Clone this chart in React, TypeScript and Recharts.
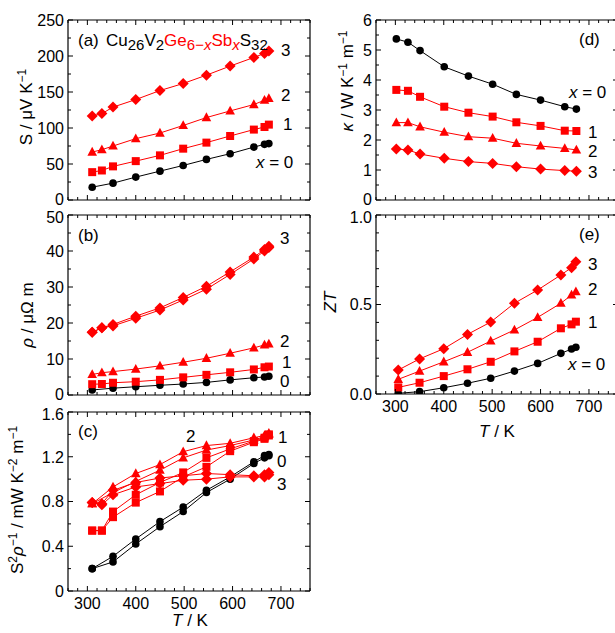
import React from 'react';
import { LineChart, Line, XAxis, YAxis } from 'recharts';

const RED = '#ff0000';
const BLACK = '#000000';
const FONT = '"Liberation Sans", Arial, sans-serif';

// temperatures (K)
const T_LEFT = [310, 330, 353, 400, 450, 498, 546, 595, 644, 666, 675];
const T_LEFT0 = [310, 353, 400, 450, 498, 546, 595, 644, 666, 675];
const T_KAPPA = [302, 326, 351, 401, 451, 501, 550, 600, 650, 674];
const T_ZT = [306, 350, 400, 449, 497, 546, 594, 642, 664, 673];

// (a) Seebeck coefficient, uV/K
const seebeck0 = [17.8, 23.4, 31.8, 40.1, 48, 56.4, 64.3, 73.5, 77.3, 78.3];
const seebeck1 = [38.7, 41, 46.7, 54, 62, 71.3, 79.7, 88.9, 97.8, 101.4, 104.7];
const seebeck2 = [66.6, 69.9, 75, 85.2, 93, 103.5, 114.5, 123.7, 132.6, 138.6, 141];
const seebeck3 = [116.7, 120, 129, 139.5, 152, 161.8, 173.4, 186, 198, 203.6, 206.8];

// (b) resistivity, uOhm m
const rho0 = [1.4, 1.9, 2.3, 2.7, 3.05, 3.5, 4.2, 4.8, 5.0, 5.2];
const rho1 = [3.0, 3.05, 3.4, 3.7, 4.2, 4.9, 5.6, 6.3, 7.1, 7.7, 7.9];
const rho2 = [5.7, 6.2, 6.5, 7.2, 8.1, 9.1, 10.2, 11.6, 13.1, 13.9, 14.2];
const rho3Heat = [17.4, 18.7, 19.2, 21.3, 23.6, 26.4, 29.4, 33.5, 37.8, 40.0, 41.0];
const rho3Cool = [17.4, 18.7, 19.6, 21.9, 24.2, 27.1, 30.2, 34.2, 38.3, 40.4, 41.3];

// (c) power factor, mW K^-2 m^-1
const pf0Heat = [0.20, 0.31, 0.465, 0.62, 0.75, 0.90, 1.02, 1.155, 1.21, 1.22];
const pf0Cool = [0.20, 0.26, 0.42, 0.575, 0.71, 0.88, 1.0, 1.14, 1.19, 1.21];
const pf1Heat = [0.54, 0.54, 0.71, 0.86, 0.97, 1.06, 1.19, 1.27, 1.34, 1.37, 1.40];
const pf1Cool = [0.54, 0.54, 0.66, 0.79, 0.89, 1.02, 1.11, 1.25, 1.33, 1.36, 1.39];
const pf2Heat = [0.78, 0.93, 1.05, 1.13, 1.245, 1.30, 1.32, 1.37, 1.39, 1.41];
const pf2Cool = [0.78, 0.88, 0.98, 1.08, 1.19, 1.26, 1.30, 1.35, 1.38, 1.40];
const pf3Heat = [0.79, 0.78, 0.90, 0.97, 1.01, 1.03, 1.05, 1.04, 1.03, 1.04, 1.06];
const pf3Cool = [0.79, 0.77, 0.86, 0.93, 0.96, 0.99, 1.0, 1.02, 1.02, 1.02, 1.04];

// (d) thermal conductivity, W K^-1 m^-1
const kappa0 = [5.37, 5.26, 4.98, 4.44, 4.13, 3.86, 3.52, 3.33, 3.11, 3.03];
const kappa1 = [3.67, 3.64, 3.44, 3.11, 2.91, 2.78, 2.59, 2.47, 2.31, 2.30];
const kappa2 = [2.58, 2.58, 2.44, 2.26, 2.11, 2.06, 1.89, 1.80, 1.72, 1.67];
const kappa3 = [1.70, 1.67, 1.53, 1.39, 1.28, 1.22, 1.11, 1.03, 0.98, 0.96];

// (e) ZT
const zt0 = [0.004, 0.013, 0.035, 0.06, 0.088, 0.128, 0.171, 0.227, 0.251, 0.261];
const zt1 = [0.037, 0.063, 0.10, 0.138, 0.18, 0.238, 0.292, 0.367, 0.389, 0.404];
const zt2 = [0.082, 0.128, 0.18, 0.233, 0.296, 0.358, 0.428, 0.507, 0.553, 0.572];
const zt3 = [0.134, 0.196, 0.253, 0.333, 0.402, 0.507, 0.581, 0.665, 0.706, 0.739];

// axis ticks
const T_MAJOR = [300, 400, 500, 600, 700];
const S_MAJOR = [0, 50, 100, 150, 200, 250];
const RHO_MAJOR = [0, 10, 20, 30, 40, 50];
const PF_MAJOR = [0, 0.4, 0.8, 1.2, 1.6];
const KAPPA_MAJOR = [0, 1, 2, 3, 4, 5, 6];
const ZT_MAJOR = [0, 0.5, 1.0];

type Shape = 'circle' | 'square' | 'triangle' | 'diamond';
type Series = { ts: number[]; vs: number[]; shape: Shape; color: string };

const zip = (ts: number[], vs: number[]) => vs.map((v, i) => ({ t: ts[i], v }));

const tickRange = (lo: number, hi: number, step: number) => {
  const n = Math.round((hi - lo) / step);
  const out: number[] = [];
  for (let i = 0; i <= n; i++) out.push(Number((lo + i * step).toFixed(4)));
  return out;
};

const isMajor = (v: number, majors: number[]) => majors.some(m => Math.abs(m - v) < 1e-6);

const Marker = ({ cx, cy, shape, color }: any) => {
  if (cx == null || cy == null) return <g />;
  if (shape === 'circle') return <circle cx={cx} cy={cy} r={3.8} fill={color} />;
  if (shape === 'square') return <rect x={cx - 4} y={cy - 4} width={8} height={8} fill={color} />;
  if (shape === 'triangle')
    return <polygon points={`${cx},${cy - 5.2} ${cx + 4.8},${cy + 3.6} ${cx - 4.8},${cy + 3.6}`} fill={color} />;
  return <polygon points={`${cx},${cy - 5.5} ${cx + 5.5},${cy} ${cx},${cy + 5.5} ${cx - 5.5},${cy}`} fill={color} />;
};

const tickText = { fontSize: 16, fill: BLACK, fontFamily: FONT };

interface PanelProps {
  left: number;
  top: number;
  w: number;
  h: number;
  yMax: number;
  yMinor: number;
  yMajor: number[];
  yFmt: (v: number) => string;
  xLabels: boolean;
  series: Series[];
}

const PAD = 40;
const AX = 20; // axis band size; margins make up the rest of PAD

const Panel: React.FC<PanelProps> = ({ left, top, w, h, yMax, yMinor, yMajor, yFmt, xLabels, series }) => {
  const xTicks = tickRange(260, 760, 20);
  const yTicks = tickRange(0, yMax, yMinor);
  const frame = { stroke: BLACK, strokeWidth: 1.2 };
  // stacked panels: the top label of a lower panel sits a little low, the 0 of an upper panel a little high
  const nudge = (v: number) => (v === yMax && top > 100 ? 2 : v === 0 && !xLabels ? -1 : 0);

  const bottomTick = (p: any) => {
    const major = isMajor(p.payload.value, T_MAJOR);
    return (
      <g>
        <line x1={p.x} x2={p.x} y1={p.y} y2={p.y - (major ? 5 : 3)} stroke={BLACK} />
        {major && xLabels && (
          <text x={p.x} y={p.y + 18} textAnchor="middle" {...tickText}>{p.payload.value}</text>
        )}
      </g>
    );
  };
  const topTick = (p: any) => {
    const major = isMajor(p.payload.value, T_MAJOR);
    return <line x1={p.x} x2={p.x} y1={p.y} y2={p.y + (major ? 5 : 3)} stroke={BLACK} />;
  };
  const leftTick = (p: any) => {
    const v = p.payload.value;
    const major = isMajor(v, yMajor);
    return (
      <g>
        <line x1={p.x} x2={p.x + (major ? 5 : 3)} y1={p.y} y2={p.y} stroke={BLACK} />
        {major && (
          <text x={p.x - 4} y={p.y + nudge(v)} dy="0.36em" textAnchor="end" {...tickText}>{yFmt(v)}</text>
        )}
      </g>
    );
  };
  const rightTick = (p: any) => {
    const major = isMajor(p.payload.value, yMajor);
    return <line x1={p.x} x2={p.x - (major ? 5 : 3)} y1={p.y} y2={p.y} stroke={BLACK} />;
  };

  const m = PAD - AX;
  return (
    <div style={{ position: 'absolute', left: left - PAD, top: top - PAD }}>
      <LineChart width={w + 2 * PAD} height={h + 2 * PAD} margin={{ top: m, right: m, bottom: m, left: m }}>
        <XAxis xAxisId="b" dataKey="t" type="number" domain={[260, 760]} allowDataOverflow ticks={xTicks}
          interval={0} height={AX} tickSize={0} tickMargin={0} tickLine={false} tick={bottomTick} axisLine={frame} />
        <XAxis xAxisId="t" orientation="top" dataKey="t" type="number" domain={[260, 760]} allowDataOverflow
          ticks={xTicks} interval={0} height={AX} tickSize={0} tickMargin={0} tickLine={false} tick={topTick}
          axisLine={frame} />
        <YAxis yAxisId="l" type="number" domain={[0, yMax]} allowDataOverflow ticks={yTicks} interval={0}
          width={AX} tickSize={0} tickMargin={0} tickLine={false} tick={leftTick} axisLine={frame} />
        <YAxis yAxisId="r" orientation="right" type="number" domain={[0, yMax]} allowDataOverflow ticks={yTicks}
          interval={0} width={AX} tickSize={0} tickMargin={0} tickLine={false} tick={rightTick} axisLine={frame} />
        {series.map((s, i) => (
          <Line
            key={i}
            xAxisId="b"
            yAxisId="l"
            data={zip(s.ts, s.vs)}
            dataKey="v"
            stroke={s.color}
            strokeWidth={1}
            isAnimationActive={false}
            activeDot={false}
            dot={(p: any) => <Marker key={p.index} cx={p.cx} cy={p.cy} shape={s.shape} color={s.color} />}
          />
        ))}
      </LineChart>
    </div>
  );
};

const sup = (s: string) => (
  <>
    <tspan dy={-6} fontSize={12}>{s}</tspan>
    <tspan dy={6}> </tspan>
  </>
);

const intFmt = (v: number) => String(v);
const zeroOr = (v: number) => (v === 0 ? '0' : v.toFixed(1));

export default function App() {
  return (
    <div style={{ position: 'absolute', left: 0, top: 0, width: 615, height: 633, overflow: 'hidden', background: '#fff', fontFamily: FONT }}>
      <Panel left={68} top={20} w={242} h={180} yMax={250} yMinor={25} yMajor={S_MAJOR} yFmt={intFmt} xLabels={false}
        series={[
          { ts: T_LEFT0, vs: seebeck0, shape: 'circle', color: BLACK },
          { ts: T_LEFT, vs: seebeck1, shape: 'square', color: RED },
          { ts: T_LEFT, vs: seebeck2, shape: 'triangle', color: RED },
          { ts: T_LEFT, vs: seebeck3, shape: 'diamond', color: RED },
        ]} />
      <Panel left={68} top={215} w={242} h={180} yMax={50} yMinor={5} yMajor={RHO_MAJOR} yFmt={intFmt} xLabels={false}
        series={[
          { ts: T_LEFT0, vs: rho0, shape: 'circle', color: BLACK },
          { ts: T_LEFT, vs: rho1, shape: 'square', color: RED },
          { ts: T_LEFT, vs: rho2, shape: 'triangle', color: RED },
          { ts: T_LEFT, vs: rho3Heat, shape: 'diamond', color: RED },
          { ts: T_LEFT, vs: rho3Cool, shape: 'diamond', color: RED },
        ]} />
      <Panel left={68} top={412} w={242} h={179} yMax={1.6} yMinor={0.2} yMajor={PF_MAJOR} yFmt={zeroOr} xLabels
        series={[
          { ts: T_LEFT0, vs: pf0Heat, shape: 'circle', color: BLACK },
          { ts: T_LEFT0, vs: pf0Cool, shape: 'circle', color: BLACK },
          { ts: T_LEFT, vs: pf1Heat, shape: 'square', color: RED },
          { ts: T_LEFT, vs: pf1Cool, shape: 'square', color: RED },
          { ts: T_LEFT0, vs: pf2Heat, shape: 'triangle', color: RED },
          { ts: T_LEFT0, vs: pf2Cool, shape: 'triangle', color: RED },
          { ts: T_LEFT, vs: pf3Heat, shape: 'diamond', color: RED },
          { ts: T_LEFT, vs: pf3Cool, shape: 'diamond', color: RED },
        ]} />
      <Panel left={376} top={20} w={242} h={180} yMax={6} yMinor={0.5} yMajor={KAPPA_MAJOR} yFmt={intFmt} xLabels={false}
        series={[
          { ts: T_KAPPA, vs: kappa0, shape: 'circle', color: BLACK },
          { ts: T_KAPPA, vs: kappa1, shape: 'square', color: RED },
          { ts: T_KAPPA, vs: kappa2, shape: 'triangle', color: RED },
          { ts: T_KAPPA, vs: kappa3, shape: 'diamond', color: RED },
        ]} />
      <Panel left={376} top={215} w={242} h={179} yMax={1.0} yMinor={0.1} yMajor={ZT_MAJOR} yFmt={v => v.toFixed(1)} xLabels
        series={[
          { ts: T_ZT, vs: zt0, shape: 'circle', color: BLACK },
          { ts: T_ZT, vs: zt1, shape: 'square', color: RED },
          { ts: T_ZT, vs: zt2, shape: 'triangle', color: RED },
          { ts: T_ZT, vs: zt3, shape: 'diamond', color: RED },
        ]} />

      <svg width={615} height={633} style={{ position: 'absolute', left: 0, top: 0, pointerEvents: 'none' }}
        fontFamily={FONT} fontSize={17} fill={BLACK}>
        {/* axis titles */}
        <text transform="translate(32,107) rotate(-90)" textAnchor="middle">
          S / μV K{sup('−1')}
        </text>
        <text transform="translate(33,315) rotate(-90)" textAnchor="middle">
          <tspan fontStyle="italic">ρ</tspan> / μΩ m
        </text>
        <text transform="translate(23,500) rotate(-90)" textAnchor="middle">
          S<tspan dy={-6} fontSize={12}>2</tspan>
          <tspan dy={6} fontStyle="italic">ρ</tspan>
          <tspan dy={-6} fontSize={12}>−1</tspan>
          <tspan dy={6}> / mW K</tspan>
          <tspan dy={-6} fontSize={12}>−2</tspan>
          <tspan dy={6}> m</tspan>
          <tspan dy={-6} fontSize={12}>−1</tspan>
        </text>
        <text transform="translate(353,81) rotate(-90)" textAnchor="middle">
          <tspan fontStyle="italic">κ</tspan> / W K
          <tspan dy={-6} fontSize={12}>−1</tspan>
          <tspan dy={6}> m</tspan>
          <tspan dy={-6} fontSize={12}>−1</tspan>
        </text>
        <text transform="translate(336,302) rotate(-90)" textAnchor="middle" fontStyle="italic">ZT</text>
        <text x={190} y={626} textAnchor="middle"><tspan fontStyle="italic">T</tspan> / K</text>
        <text x={497} y={437} textAnchor="middle"><tspan fontStyle="italic">T</tspan> / K</text>

        {/* (a) */}
        <text x={78} y={46}>(a)</text>
        <text x={106} y={46}>
          Cu<tspan fontSize={15} dy={4}>26</tspan>
          <tspan dy={-4}>V</tspan>
          <tspan fontSize={15} dy={4}>2</tspan>
          <tspan dy={-4} fill={RED}>Ge</tspan>
          <tspan fontSize={15} dy={4} fill={RED}>6−</tspan>
          <tspan fontSize={15} fill={RED} fontStyle="italic">x</tspan>
          <tspan dy={-4} fill={RED}>Sb</tspan>
          <tspan fontSize={15} dy={4} fill={RED} fontStyle="italic">x</tspan>
          <tspan dy={-4}>S</tspan>
          <tspan fontSize={15} dy={4}>32</tspan>
        </text>
        <text x={281} y={56}>3</text>
        <text x={281} y={101}>2</text>
        <text x={283} y={130}>1</text>
        <text x={256} y={168}><tspan fontStyle="italic">x</tspan> = 0</text>

        {/* (b) */}
        <text x={78} y={241}>(b)</text>
        <text x={280} y={244}>3</text>
        <text x={280} y={347}>2</text>
        <text x={282} y={368}>1</text>
        <text x={280} y={387}>0</text>

        {/* (c) */}
        <text x={78} y={437}>(c)</text>
        <text x={186} y={442}>2</text>
        <text x={278} y={443}>1</text>
        <text x={277} y={467}>0</text>
        <text x={277} y={490}>3</text>

        {/* (d) */}
        <text x={579} y={45}>(d)</text>
        <text x={569} y={98}><tspan fontStyle="italic">x</tspan> = 0</text>
        <text x={588} y={138}>1</text>
        <text x={588} y={157}>2</text>
        <text x={588} y={178}>3</text>

        {/* (e) */}
        <text x={579} y={240}>(e)</text>
        <text x={588} y={270}>3</text>
        <text x={588} y={295}>2</text>
        <text x={588} y={328}>1</text>
        <text x={568} y={370}><tspan fontStyle="italic">x</tspan> = 0</text>
      </svg>
    </div>
  );
}
